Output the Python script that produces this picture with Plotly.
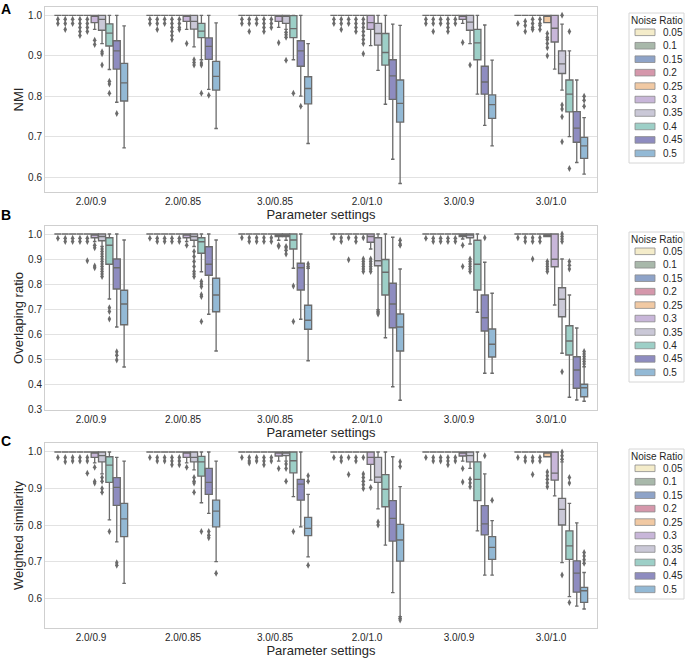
import plotly.graph_objects as go

# ---------------- data ----------------
categories = ["2.0/0.9", "2.0/0.85", "3.0/0.85", "2.0/1.0", "3.0/0.9", "3.0/1.0"]
noise_ratios = ["0.05", "0.1", "0.15", "0.2", "0.25", "0.3", "0.35", "0.4", "0.45", "0.5"]
palette = ["#f4ecca", "#a8b8aa", "#8ea3c8", "#d597ab", "#f1c9a3",
           "#c8b6d9", "#cac8d7", "#9dcfc7", "#8e8cc0", "#93b9d5"]

# Panel A: NMI  (rows = noise ratio, columns = parameter setting)
nmi_lowerfence = [
    [1, 1, 1, 1, 1, 1], [1, 1, 1, 1, 1, 1], [1, 1, 1, 1, 1, 1], [1, 1, 1, 1, 1, 1],
    [1, 1, 1, 1, 1, 0.982],
    [0.965, 0.965, 0.97, 0.925, 0.98, 0.867],
    [0.93, 0.922, 0.965, 0.864, 0.93, 0.815],
    [0.866, 0.89, 0.89, 0.78, 0.805, 0.70],
    [0.785, 0.817, 0.80, 0.644, 0.728, 0.636],
    [0.672, 0.72, 0.683, 0.584, 0.677, 0.607],
]
nmi_q1 = [
    [1, 1, 1, 1, 1, 1], [1, 1, 1, 1, 1, 1], [1, 1, 1, 1, 1, 1], [1, 1, 1, 1, 1, 1],
    [1, 1, 1, 1, 1, 0.982],
    [0.982, 0.985, 0.985, 0.965, 0.99, 0.934],
    [0.963, 0.966, 0.98, 0.926, 0.963, 0.856],
    [0.924, 0.945, 0.945, 0.877, 0.89, 0.761],
    [0.867, 0.891, 0.874, 0.792, 0.805, 0.686],
    [0.788, 0.815, 0.781, 0.736, 0.745, 0.646],
]
nmi_median = [
    [1, 1, 1, 1, 1, 1], [1, 1, 1, 1, 1, 1], [1, 1, 1, 1, 1, 1], [1, 1, 1, 1, 1, 1],
    [1, 1, 1, 1, 1, 1],
    [1, 1, 1, 0.982, 1, 0.968],
    [0.99, 0.985, 1, 0.955, 0.983, 0.88],
    [0.956, 0.961, 0.967, 0.908, 0.932, 0.805],
    [0.912, 0.923, 0.912, 0.85, 0.835, 0.721],
    [0.833, 0.849, 0.819, 0.782, 0.779, 0.677],
]
nmi_q3 = [
    [1, 1, 1, 1, 1, 1], [1, 1, 1, 1, 1, 1], [1, 1, 1, 1, 1, 1], [1, 1, 1, 1, 1, 1],
    [1, 1, 1, 1, 1, 1],
    [1, 1, 1, 1, 1, 1],
    [1, 1, 1, 0.98, 1, 0.912],
    [0.979, 0.98, 0.999, 0.955, 0.965, 0.84],
    [0.937, 0.944, 0.937, 0.89, 0.874, 0.762],
    [0.881, 0.886, 0.848, 0.84, 0.803, 0.698],
]
nmi_upperfence = [
    [1, 1, 1, 1, 1, 1], [1, 1, 1, 1, 1, 1], [1, 1, 1, 1, 1, 1], [1, 1, 1, 1, 1, 1],
    [1, 1, 1, 1, 1, 1],
    [1, 1, 1, 1, 1, 1],
    [1, 1, 1, 1, 1, 0.978],
    [1, 1, 1, 1, 1, 0.912],
    [1, 1, 1, 0.978, 0.976, 0.84],
    [0.974, 0.981, 0.93, 0.975, 0.889, 0.747],
]
nmi_outliers = [
    [[0.99, 0.98], [0.99, 0.98], [0.99, 0.98], [0.99, 0.98], [0.99, 0.98], [0.98]],
    [[0.99, 0.98, 0.965], [0.99, 0.98, 0.965], [0.99, 0.98, 0.96], [0.99, 0.98, 0.965], [0.99, 0.98, 0.96], [0.985, 0.975, 0.96]],
    [[0.99, 0.98], [0.99, 0.98], [0.99, 0.98], [0.99, 0.98], [0.99, 0.98], [0.99, 0.98, 0.97, 0.965]],
    [[0.99, 0.98, 0.97, 0.96, 0.95], [0.99, 0.98, 0.97, 0.96, 0.95, 0.94], [0.99, 0.98, 0.97, 0.96], [0.99, 0.98, 0.97, 0.96], [0.99, 0.98, 0.97, 0.96], [0.99, 0.98, 0.975, 0.965]],
    [[0.99, 0.98, 0.97, 0.96], [0.99, 0.98, 0.97, 0.965], [0.99, 0.98, 0.97], [0.99, 0.98, 0.97, 0.96, 0.95, 0.94, 0.93, 0.905], [0.99, 0.98], [0.955, 0.945, 0.94, 0.93, 0.92, 0.9]],
    [[0.938, 0.928], [0.93], [0.932], [], [0.933], []],
    [[0.91, 0.905, 0.877], [0.89, 0.883, 0.877], [0.958, 0.952, 0.946, 0.889], [], [0.877], [1.0, 0.778, 0.768, 0.749, 0.687]],
    [[0.837, 0.83, 0.807], [0.882, 0.877, 0.807], [0.807], [], [], [0.96, 0.621]],
    [[0.757], [0.802], [0.775], [], [], []],
    [[], [], [], [], [], [0.80, 0.79, 0.775]],
]

# Panel B: Overlaping ratio
ovl_lowerfence = [
    [1, 1, 1, 1, 1, 1], [1, 1, 1, 1, 1, 1], [1, 1, 1, 1, 1, 1], [1, 1, 1, 1, 1, 1],
    [1, 1, 1, 1, 1, 0.99],
    [0.97, 0.97, 0.975, 0.94, 0.98, 0.716],
    [0.95, 0.95, 0.975, 0.697, 0.96, 0.523],
    [0.74, 0.849, 0.863, 0.585, 0.687, 0.347],
    [0.628, 0.679, 0.659, 0.389, 0.443, 0.336],
    [0.468, 0.532, 0.493, 0.335, 0.443, 0.331],
]
ovl_q1 = [
    [1, 1, 1, 1, 1, 1], [1, 1, 1, 1, 1, 1], [1, 1, 1, 1, 1, 1], [1, 1, 1, 1, 1, 1],
    [1, 1, 1, 1, 1, 0.99],
    [0.985, 0.985, 0.99, 0.967, 0.99, 0.869],
    [0.973, 0.975, 0.99, 0.873, 0.985, 0.669],
    [0.879, 0.923, 0.94, 0.756, 0.776, 0.516],
    [0.78, 0.835, 0.776, 0.625, 0.612, 0.383],
    [0.637, 0.689, 0.619, 0.532, 0.508, 0.349],
]
ovl_median = [
    [1, 1, 1, 1, 1, 1], [1, 1, 1, 1, 1, 1], [1, 1, 1, 1, 1, 1], [1, 1, 1, 1, 1, 1],
    [1, 1, 1, 1, 1, 1],
    [1, 1, 1, 0.99, 1, 0.899],
    [0.99, 0.99, 1, 0.893, 1, 0.739],
    [0.955, 0.969, 0.976, 0.847, 0.879, 0.572],
    [0.865, 0.879, 0.865, 0.72, 0.665, 0.456],
    [0.72, 0.756, 0.655, 0.628, 0.559, 0.385],
]
ovl_q3 = [
    [1, 1, 1, 1, 1, 1], [1, 1, 1, 1, 1, 1], [1, 1, 1, 1, 1, 1], [1, 1, 1, 1, 1, 1],
    [1, 1, 1, 1, 1, 1],
    [1, 1, 1, 1, 1, 1],
    [1, 1, 1, 0.985, 1, 0.785],
    [0.985, 0.985, 1, 0.898, 0.975, 0.633],
    [0.9, 0.949, 0.883, 0.803, 0.756, 0.509],
    [0.775, 0.823, 0.715, 0.68, 0.62, 0.399],
]
ovl_upperfence = [
    [1, 1, 1, 1, 1, 1], [1, 1, 1, 1, 1, 1], [1, 1, 1, 1, 1, 1], [1, 1, 1, 1, 1, 1],
    [1, 1, 1, 1, 1, 1],
    [1, 1, 1, 1, 1, 1],
    [1, 1, 1, 1, 1, 0.9],
    [1, 1, 1, 1, 1, 0.756],
    [1, 1, 1, 0.987, 0.887, 0.624],
    [0.976, 0.976, 0.863, 0.86, 0.763, 0.469],
]
ovl_outliers = [
    [[0.983], [0.983], [0.985], [0.985], [0.983], [0.985]],
    [[0.983, 0.97], [0.983, 0.97], [0.985, 0.97], [0.985, 0.97], [0.983, 0.97], [0.985, 0.97]],
    [[0.983, 0.97], [0.983, 0.97], [0.985, 0.97], [0.985, 0.897], [0.983, 0.97], [0.985, 0.97, 0.9]],
    [[0.983, 0.97], [0.983, 0.97], [0.985, 0.97], [0.985, 0.97], [0.983, 0.97], [0.985, 0.97]],
    [[0.983, 0.97, 0.893], [0.983, 0.97], [0.985, 0.97], [0.985, 0.9, 0.89, 0.88, 0.87, 0.86, 0.85], [0.983, 0.97], [0.89, 0.88, 0.87, 0.86, 0.85]],
    [[0.955, 0.945, 0.872, 0.865], [0.955], [0.955, 0.95], [0.9, 0.89, 0.88, 0.87, 0.86, 0.85], [0.955, 0.87], []],
    [[0.94, 0.93, 0.92, 0.91, 0.9, 0.89, 0.88, 0.87, 0.86, 0.85, 0.84, 0.83], [0.93, 0.91, 0.89, 0.87, 0.85, 0.84, 0.83], [0.95, 0.945, 0.935, 0.92], [0.69, 0.685, 0.68], [0.9, 0.89, 0.88, 0.87, 0.86, 0.85], [1.0, 0.99, 0.98, 0.97, 0.449]],
    [[0.705, 0.69, 0.66], [0.81, 0.8, 0.79, 0.757, 0.75, 0.65], [0.792, 0.65], [], [], [0.89, 0.875, 0.86]],
    [[0.529, 0.515, 0.496], [], [], [], [0.985], []],
    [[], [], [0.88, 0.87], [0.975, 0.96, 0.955], [], [0.53, 0.52, 0.51, 0.5, 0.49, 0.48]],
]

# Panel C: Weighted similarity
ws_lowerfence = [
    [1, 1, 1, 1, 1, 1], [1, 1, 1, 1, 1, 1], [1, 1, 1, 1, 1, 1], [1, 1, 1, 1, 1, 1],
    [1, 1, 1, 1, 1, 0.987],
    [0.97, 0.97, 0.975, 0.923, 0.975, 0.88],
    [0.94, 0.951, 0.975, 0.844, 0.955, 0.697],
    [0.814, 0.861, 0.878, 0.745, 0.784, 0.604],
    [0.754, 0.832, 0.795, 0.615, 0.663, 0.578],
    [0.64, 0.70, 0.713, 0.549, 0.663, 0.57],
]
ws_q1 = [
    [1, 1, 1, 1, 1, 1], [1, 1, 1, 1, 1, 1], [1, 1, 1, 1, 1, 1], [1, 1, 1, 1, 1, 1],
    [1, 1, 1, 1, 1, 0.987],
    [0.985, 0.985, 0.989, 0.966, 0.989, 0.923],
    [0.973, 0.973, 0.99, 0.917, 0.973, 0.80],
    [0.917, 0.934, 0.943, 0.85, 0.867, 0.706],
    [0.854, 0.884, 0.868, 0.756, 0.773, 0.616],
    [0.768, 0.795, 0.771, 0.701, 0.706, 0.588],
]
ws_median = [
    [1, 1, 1, 1, 1, 1], [1, 1, 1, 1, 1, 1], [1, 1, 1, 1, 1, 1], [1, 1, 1, 1, 1, 1],
    [1, 1, 1, 1, 1, 1],
    [1, 1, 1, 0.985, 1, 0.942],
    [0.99, 0.985, 1, 0.931, 0.99, 0.843],
    [0.964, 0.973, 0.976, 0.898, 0.925, 0.743],
    [0.903, 0.917, 0.912, 0.818, 0.803, 0.668],
    [0.817, 0.838, 0.791, 0.759, 0.739, 0.62],
]
ws_q3 = [
    [1, 1, 1, 1, 1, 1], [1, 1, 1, 1, 1, 1], [1, 1, 1, 1, 1, 1], [1, 1, 1, 1, 1, 1],
    [1, 1, 1, 1, 1, 1],
    [1, 1, 1, 1, 1, 1],
    [1, 1, 1, 0.985, 1, 0.873],
    [0.987, 0.988, 1, 0.938, 0.973, 0.784],
    [0.93, 0.955, 0.925, 0.867, 0.853, 0.702],
    [0.859, 0.868, 0.821, 0.802, 0.768, 0.629],
]
ws_upperfence = [
    [1, 1, 1, 1, 1, 1], [1, 1, 1, 1, 1, 1], [1, 1, 1, 1, 1, 1], [1, 1, 1, 1, 1, 1],
    [1, 1, 1, 1, 1, 1],
    [1, 1, 1, 1, 1, 1],
    [1, 1, 1, 1, 1, 0.973],
    [1, 1, 1, 1, 1, 0.859],
    [0.985, 1, 1, 0.987, 0.94, 0.806],
    [0.975, 0.975, 0.884, 0.905, 0.812, 0.67],
]
ws_outliers = [
    [[0.985], [0.985], [0.985], [0.985], [0.985], [0.985]],
    [[0.985, 0.973], [0.985, 0.975], [0.985, 0.975, 0.97], [0.985, 0.975], [0.985, 0.975], [0.985, 0.975]],
    [[0.985, 0.975], [0.985, 0.975], [0.985, 0.975], [0.985, 0.938], [0.985, 0.975], [0.985, 0.975, 0.938]],
    [[0.985, 0.975], [0.985, 0.975, 0.965], [0.985, 0.975, 0.965], [0.985, 0.975], [0.985, 0.975, 0.965], [0.985, 0.975]],
    [[0.985, 0.975, 0.942], [0.985, 0.975, 0.965], [0.985, 0.975], [0.985, 0.94, 0.93, 0.92, 0.91, 0.9], [0.985, 0.975], [0.945, 0.935, 0.925, 0.915, 0.905]],
    [[0.958, 0.919, 0.915], [0.958], [0.955], [0.903], [0.955, 0.918], []],
    [[0.93, 0.92, 0.9, 0.89], [0.93, 0.92, 0.915, 0.89], [0.967, 0.955, 0.92], [0.808, 0.8], [0.925, 0.915, 0.905], [1.0, 0.99, 0.98, 0.663]],
    [[0.782], [0.782], [0.782], [], [], [0.93, 0.915, 0.588]],
    [[0.697, 0.69], [0.782, 0.772, 0.765], [], [], [0.99], []],
    [[], [0.668], [0.935, 0.92, 0.69], [0.973, 0.96, 0.545, 0.54], [0.868], [0.725, 0.715, 0.705, 0.695]],
]

panel_letters = ["A", "B", "C"]
y_titles = ["NMI", "Overlaping ratio", "Weighted similarity"]
x_title = "Parameter settings"
legend_title = "Noise Ratio"

# ---------------- layout constants ----------------
W, H = 687, 658
PLOT_L, PLOT_R = 45, 597
PANEL_TOPS = [7, 226, 443]
PANEL_BOTTOMS = [192, 410, 628]
LETTER_TOPS = [0, 206, 432]
Y_RANGES = [[0.563, 1.0205], [0.296, 1.032], [0.518, 1.0246]]
Y_TICKS = [[0.6, 0.7, 0.8, 0.9, 1.0],
           [0.3, 0.4, 0.5, 0.6, 0.7, 0.8, 0.9, 1.0],
           [0.6, 0.7, 0.8, 0.9, 1.0]]
GRAY = "#6b6b6b"
TEXT = "#262626"
FONT = "Liberation Sans, Arial, sans-serif"


def px(x):
    return x / W


def py(y):
    return 1 - y / H


panels = [
    (nmi_lowerfence, nmi_q1, nmi_median, nmi_q3, nmi_upperfence, nmi_outliers),
    (ovl_lowerfence, ovl_q1, ovl_median, ovl_q3, ovl_upperfence, ovl_outliers),
    (ws_lowerfence, ws_q1, ws_median, ws_q3, ws_upperfence, ws_outliers),
]

fig = go.Figure()
n_h = len(noise_ratios)
slot = 0.8 / n_h

for p, (lo, q1, med, q3, hi, outl) in enumerate(panels):
    suffix = "" if p == 0 else str(p + 1)
    for j in range(n_h):
        xs = [i + (j - (n_h - 1) / 2) * slot for i in range(len(categories))]
        fig.add_trace(go.Box(
            x=xs, q1=q1[j], median=med[j], q3=q3[j],
            lowerfence=lo[j], upperfence=hi[j],
            width=slot * 0.96, whiskerwidth=0.5,
            fillcolor=palette[j], line=dict(color=GRAY, width=1.3),
            name=noise_ratios[j], showlegend=False, hoverinfo="skip",
            xaxis="x" + suffix, yaxis="y" + suffix,
        ))
        ox, oy = [], []
        for i in range(len(categories)):
            for v in outl[j][i]:
                ox.append(xs[i])
                oy.append(v)
        fig.add_trace(go.Scatter(
            x=ox, y=oy, mode="markers",
            marker=dict(symbol="diamond-tall", size=5, color=GRAY, line=dict(width=0)),
            showlegend=False, hoverinfo="skip",
            xaxis="x" + suffix, yaxis="y" + suffix,
        ))

layout = dict(
    width=W, height=H, margin=dict(l=0, r=0, t=0, b=0),
    paper_bgcolor="white", plot_bgcolor="white",
    boxmode="overlay", showlegend=False,
    font=dict(family=FONT, size=10, color=TEXT),
)
shapes = []
annotations = []
for p in range(3):
    suffix = "" if p == 0 else str(p + 1)
    layout["xaxis" + suffix] = dict(
        domain=[px(PLOT_L), px(PLOT_R)], anchor="y" + suffix,
        range=[-0.5, len(categories) - 0.5],
        tickmode="array", tickvals=list(range(len(categories))), ticktext=categories,
        showgrid=False, zeroline=False, showline=True, mirror=True,
        linecolor="#cfcfcf", linewidth=1, ticks="",
        tickfont=dict(size=10, color=TEXT), automargin=False,
        title=dict(text=x_title, font=dict(size=13, color=TEXT), standoff=2),
    )
    layout["yaxis" + suffix] = dict(
        domain=[py(PANEL_BOTTOMS[p]), py(PANEL_TOPS[p])], anchor="x" + suffix,
        range=Y_RANGES[p], tickmode="array", tickvals=Y_TICKS[p],
        ticktext=["%.1f" % t for t in Y_TICKS[p]],
        showgrid=True, gridcolor="#e2e2e2", gridwidth=1,
        zeroline=False, showline=True, mirror=True, linecolor="#cfcfcf", linewidth=1,
        ticks="", tickfont=dict(size=10, color=TEXT), automargin=False,
        title=dict(text=y_titles[p], font=dict(size=13, color=TEXT), standoff=1),
    )
    # panel letter
    annotations.append(dict(
        text="<b>%s</b>" % panel_letters[p], x=px(0), y=py(LETTER_TOPS[p]),
        xref="paper", yref="paper", xanchor="left", yanchor="top",
        showarrow=False, borderpad=0, font=dict(size=14, color="black", family=FONT),
    ))
    # legend
    top = PANEL_TOPS[p] + 6
    shapes.append(dict(type="rect", xref="paper", yref="paper",
                       x0=px(629), x1=px(684), y0=py(top + 150), y1=py(top),
                       line=dict(color="#d6d6d6", width=1), fillcolor="white", layer="above"))
    annotations.append(dict(text=legend_title, x=px(656.5), y=py(top + 7.5),
                            xref="paper", yref="paper", xanchor="center", yanchor="middle",
                            showarrow=False, font=dict(size=10, color=TEXT)))
    for j in range(n_h):
        cy = top + 19.3 + 13.45 * j
        shapes.append(dict(type="rect", xref="paper", yref="paper",
                           x0=px(635), x1=px(655), y0=py(cy + 3.3), y1=py(cy - 3.3),
                           line=dict(color="#8a8a8a", width=0.8), fillcolor=palette[j],
                           layer="above"))
        annotations.append(dict(text=noise_ratios[j], x=px(661), y=py(cy),
                                xref="paper", yref="paper", xanchor="left", yanchor="middle",
                                showarrow=False, font=dict(size=10, color=TEXT)))

layout["shapes"] = shapes
layout["annotations"] = annotations
fig.update_layout(**layout)

fig.write_html("out.html")
